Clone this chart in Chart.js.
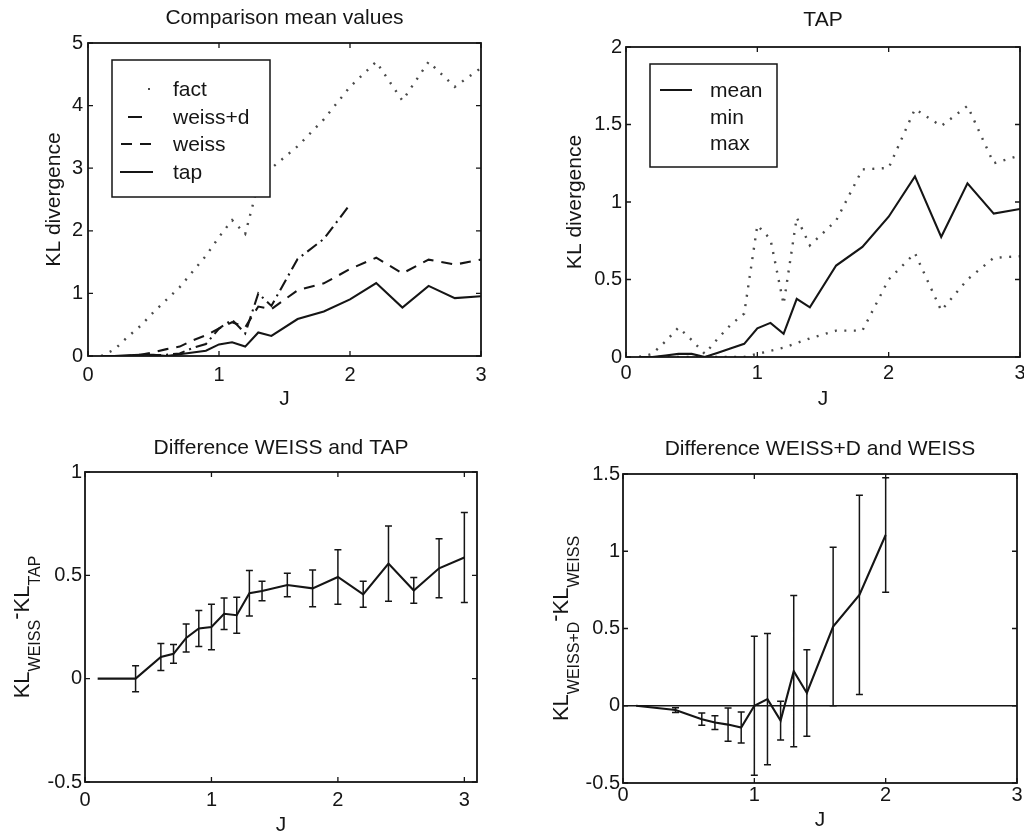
<!DOCTYPE html>
<html><head><meta charset="utf-8">
<script src="https://cdn.jsdelivr.net/npm/chart.js@4.4.0/dist/chart.umd.min.js"></script>
<style>
html,body{margin:0;padding:0;background:#fff;overflow:hidden;width:1024px;height:836px;position:relative;}
canvas{position:absolute;}
</style></head><body>
<canvas id="c1" width="512" height="418" style="left:0;top:0"></canvas>
<canvas id="c2" width="520" height="418" style="left:512px;top:0"></canvas>
<canvas id="c3" width="512" height="418" style="left:0;top:418px"></canvas>
<canvas id="c4" width="520" height="418" style="left:512px;top:418px"></canvas>
<script>
// ---------- data ----------
const J_TOP   = [0.1,0.2,0.3,0.4,0.5,0.6,0.7,0.8,0.9,1.0,1.1,1.2,1.3,1.4,1.6,1.8,2.0,2.2,2.4,2.6,2.8,3.0];
const J_WD    = [0.1,0.2,0.3,0.4,0.5,0.6,0.7,0.8,0.9,1.0,1.1,1.2,1.3,1.4,1.6,1.8,2.0];
const FACT    = [0.0,0.1,0.3,0.48,0.7,0.9,1.1,1.35,1.6,1.9,2.17,1.95,2.75,3.0,3.35,3.78,4.3,4.7,4.08,4.7,4.3,4.6];
const WEISS_D = [0,0,0,0.0,0.01,0.02,0.04,0.13,0.19,0.44,0.58,0.36,1.0,0.8,1.55,1.87,2.42];
const WEISS   = [0,0,0,0.02,0.06,0.11,0.15,0.25,0.33,0.44,0.54,0.46,0.79,0.75,1.05,1.16,1.39,1.57,1.32,1.54,1.46,1.54];
const TAP_MEAN= [0,0,0.01,0.02,0.02,0.0,0.028,0.057,0.085,0.185,0.22,0.15,0.375,0.32,0.59,0.71,0.905,1.165,0.775,1.12,0.925,0.955];
const TAP_MIN = [0,0,0,0,0,0,0,0,0,0.02,0.04,0.06,0.09,0.12,0.17,0.17,0.5,0.67,0.30,0.50,0.64,0.65];
const TAP_MAX = [0,0.02,0.10,0.19,0.11,0.02,0.12,0.21,0.28,0.85,0.76,0.34,0.90,0.72,0.88,1.21,1.22,1.60,1.49,1.62,1.25,1.30];

const J_ERR   = [0.1,0.4,0.6,0.7,0.8,0.9,1.0,1.1,1.2,1.3,1.4,1.6,1.8,2.0,2.2,2.4,2.6,2.8,3.0];
const DIFF_WT = [0,0,0.105,0.12,0.197,0.243,0.25,0.314,0.307,0.413,0.424,0.453,0.437,0.492,0.408,0.557,0.427,0.534,0.586];
const ERR_WT  = [0,0.063,0.065,0.045,0.068,0.087,0.11,0.076,0.087,0.11,0.047,0.057,0.089,0.132,0.063,0.182,0.062,0.143,0.218];

const J_DW    = [0.1,0.4,0.6,0.7,0.8,0.9,1.0,1.1,1.2,1.3,1.4,1.6,1.8,2.0];
const DIFF_DW = [0,-0.028,-0.087,-0.109,-0.122,-0.141,0.0,0.043,-0.096,0.224,0.083,0.513,0.718,1.105];
const ERR_DW  = [0,0.015,0.04,0.045,0.107,0.1,0.45,0.425,0.125,0.49,0.28,0.513,0.645,0.37];
const ZERO_X  = [0,3];
const ZERO_Y  = [0,0];

// ---------- styling ----------
const INK = '#151515';
const FONT = "'Liberation Sans', Arial, Helvetica, sans-serif";
Chart.defaults.font.family = FONT;
Chart.defaults.color = INK;
Chart.defaults.animation = false;

const DOT = [2, 7.5];
const DASH = [11, 8];
const DASHDOT = [12, 5, 2, 5];

function pts(xs, ys){ return ys.map((v,i)=>({x:xs[i], y:v})); }
function line(label, xs, ys, dash, color, width){
  return {label, data: pts(xs, ys), borderColor: color || INK, borderWidth: width || 2.1,
    borderDash: dash || [], pointRadius: 0, fill: false, tension: 0, borderCapStyle:'butt'};
}
const fmt = v => String(Number(Number(v).toFixed(2)));

// inward ticks on all four sides + box
const framePlugin = {
  id: 'frame',
  afterDraw(chart){
    const {ctx, chartArea: a, scales: {x, y}} = chart;
    const L = 5;
    ctx.save();
    ctx.strokeStyle = INK; ctx.lineWidth = 1.3; ctx.setLineDash([]);
    ctx.beginPath();
    x.ticks.forEach(t => { const p = x.getPixelForValue(t.value);
      ctx.moveTo(p, a.bottom); ctx.lineTo(p, a.bottom - L);
      ctx.moveTo(p, a.top); ctx.lineTo(p, a.top + L); });
    y.ticks.forEach(t => { const p = y.getPixelForValue(t.value);
      ctx.moveTo(a.left, p); ctx.lineTo(a.left + L, p);
      ctx.moveTo(a.right, p); ctx.lineTo(a.right - L, p); });
    ctx.stroke();
    ctx.lineWidth = 1.8;
    ctx.strokeRect(a.left, a.top, a.right - a.left, a.bottom - a.top);
    ctx.restore();
  }
};

// vertical error bars
const errPlugin = {
  id: 'errbars',
  afterDatasetsDraw(chart, args, o){
    if (!o || !o.xs) return;
    const {ctx, scales: {x, y}} = chart;
    ctx.save(); ctx.strokeStyle = INK; ctx.lineWidth = 1.5; ctx.setLineDash([]);
    ctx.beginPath();
    for (let i = 0; i < o.xs.length; i++){
      const e = o.errs[i]; if (!e) continue;
      const px = x.getPixelForValue(o.xs[i]);
      const p1 = y.getPixelForValue(o.vals[i] + e), p2 = y.getPixelForValue(o.vals[i] - e);
      ctx.moveTo(px, p1); ctx.lineTo(px, p2);
      ctx.moveTo(px - 3.5, p1); ctx.lineTo(px + 3.5, p1);
      ctx.moveTo(px - 3.5, p2); ctx.lineTo(px + 3.5, p2);
    }
    ctx.stroke(); ctx.restore();
  }
};

// MATLAB-like boxed legend inside the axes
const legendPlugin = {
  id: 'mlegend',
  afterDraw(chart, args, o){
    if (!o || !o.box) return;
    const {ctx, chartArea: a} = chart;
    const bx = a.left + o.box[0], by = a.top + o.box[1];
    ctx.save();
    ctx.fillStyle = '#fff'; ctx.fillRect(bx, by, o.box[2], o.box[3]);
    ctx.strokeStyle = INK; ctx.lineWidth = 1.5; ctx.setLineDash([]);
    ctx.strokeRect(bx, by, o.box[2], o.box[3]);
    ctx.font = '21px ' + FONT; ctx.fillStyle = INK; ctx.textBaseline = 'middle'; ctx.textAlign = 'left';
    for (let k = 0; k < o.items.length; k++){
      const it = o.items[k];
      const ds = chart.data.datasets[it.ds];
      const yy = a.top + it.y;
      ctx.strokeStyle = ds.borderColor; ctx.lineWidth = 2;
      if (it.type === 'dot'){
        ctx.setLineDash([]); ctx.beginPath();
        ctx.moveTo(a.left + it.x0, yy); ctx.lineTo(a.left + it.x0 + 2, yy); ctx.stroke();
      } else if (it.type === 'line'){
        ctx.setLineDash(it.dash ? Array.from(it.dash) : []);
        ctx.beginPath(); ctx.moveTo(a.left + it.x0, yy); ctx.lineTo(a.left + it.x1, yy); ctx.stroke();
      }
      ctx.setLineDash([]);
      ctx.fillText(ds.label, a.left + o.textX, yy + 1);
    }
    ctx.restore();
  }
};

// rotated y-axis label with subscripts
const texPlugin = {
  id: 'ytex',
  afterDraw(chart, args, o){
    if (!o || !o.parts) return;
    const {ctx, chartArea: a} = chart;
    const cy = (a.top + a.bottom) / 2;
    ctx.save();
    let total = 0;
    const ps = [];
    for (let i = 0; i < o.parts.length; i++){
      const p = o.parts[i];
      ctx.font = p.size + 'px ' + FONT;
      const w = ctx.measureText(p.t).width;
      ps.push({t: p.t, size: p.size, shift: p.shift, w}); total += w;
    }
    ctx.translate(o.baseX, cy);
    ctx.rotate(-Math.PI / 2);
    ctx.fillStyle = INK; ctx.textBaseline = 'alphabetic'; ctx.textAlign = 'left';
    let cx = -total / 2;
    ps.forEach(p => { ctx.font = p.size + 'px ' + FONT; ctx.fillText(p.t, cx, p.shift); cx += p.w; });
    ctx.restore();
  }
};

function makeOptions(c){
  return {
    responsive: false, devicePixelRatio: 1, animation: false,
    layout: {padding: {top: c.padTop, left: 0, right: c.padRight, bottom: 0}},
    plugins: {
      legend: {display: false}, tooltip: {enabled: false},
      title: {display: true, text: c.title, fullSize: false, color: INK,
        font: {size: 21, weight: 'normal', lineHeight: 1}, padding: {top: 0, bottom: c.titleGap}},
      errbars: c.err || {}, mlegend: c.legend || {}, ytex: c.tex || {}
    },
    scales: {
      x: {type: 'linear', position: 'bottom', min: c.xMin, max: c.xMax,
        grid: {display: false, drawTicks: false}, border: {display: false},
        ticks: {stepSize: 1, includeBounds: false, padding: c.xTickPad, maxRotation: 0, autoSkip: false,
          font: {size: 20, lineHeight: 1.2}, color: INK, callback: fmt},
        title: {display: true, text: 'J', color: INK, font: {size: 21, lineHeight: 1}, padding: {top: 0, bottom: c.xTitlePad}},
        afterFit: s => { s.height = c.xH; }},
      y: {type: 'linear', position: 'left', min: c.yMin, max: c.yMax,
        grid: {display: false, drawTicks: false}, border: {display: false},
        ticks: {stepSize: c.yStep, includeBounds: false, padding: c.yTickPad, font: {size: 20}, color: INK, callback: fmt},
        title: {display: !!c.yTitle, text: c.yTitle || '', color: INK, font: {size: 21, lineHeight: 1}, padding: {top: c.yTitlePad || 0, bottom: 0}},
        afterFit: s => { s.width = c.yW; }}
    }
  };
}
const PLUGINS = [framePlugin, errPlugin, legendPlugin, texPlugin];

// ---------- panel 1: Comparison mean values ----------
new Chart(document.getElementById('c1'), {
  type: 'line',
  data: {datasets: [
    line('fact', J_TOP, FACT, DOT, '#4a4a4a', 2.4),
    line('weiss+d', J_WD, WEISS_D, DASHDOT),
    line('weiss', J_TOP, WEISS, DASH),
    line('tap', J_TOP, TAP_MEAN, [])
  ]},
  options: makeOptions({title: 'Comparison mean values', padTop: 8, titleGap: 14, padRight: 31,
    xMin: 0, xMax: 3, yMin: 0, yMax: 5, yStep: 1, xH: 62, yW: 88, xTickPad: 7, yTickPad: 5,
    xTitlePad: 8.5, yTitle: 'KL divergence', yTitlePad: 44,
    legend: {box: [24, 17, 158, 137], textX: 85, items: [
      {ds: 0, y: 46, type: 'dot', x0: 60},
      {ds: 1, y: 74, type: 'line', x0: 40, x1: 54, dash: []},
      {ds: 2, y: 101, type: 'line', x0: 33, x1: 64, dash: DASH},
      {ds: 3, y: 129, type: 'line', x0: 32, x1: 65, dash: []}
    ]}}),
  plugins: PLUGINS
});

// ---------- panel 2: TAP ----------
new Chart(document.getElementById('c2'), {
  type: 'line',
  data: {datasets: [
    line('mean', J_TOP, TAP_MEAN, []),
    line('min', J_TOP, TAP_MIN, DOT, '#4a4a4a', 2.4),
    line('max', J_TOP, TAP_MAX, DOT, '#4a4a4a', 2.4)
  ]},
  options: makeOptions({title: 'TAP', padTop: 9.5, titleGap: 16.5, padRight: 12,
    xMin: 0, xMax: 3, yMin: 0, yMax: 2, yStep: 0.5, xH: 61, yW: 114, xTickPad: 4, yTickPad: 4,
    xTitlePad: 8.5, yTitle: 'KL divergence', yTitlePad: 53,
    legend: {box: [24, 17, 127, 103], textX: 84, items: [
      {ds: 0, y: 43, type: 'line', x0: 34, x1: 66, dash: []},
      {ds: 1, y: 70, type: 'none'},
      {ds: 2, y: 96, type: 'none'}
    ]}}),
  plugins: PLUGINS
});

// ---------- panel 3: Difference WEISS and TAP ----------
new Chart(document.getElementById('c3'), {
  type: 'line',
  data: {datasets: [ line('KL_WEISS-KL_TAP', J_ERR, DIFF_WT, []) ]},
  options: makeOptions({title: 'Difference WEISS and TAP', padTop: 20, titleGap: 13, padRight: 35,
    xMin: 0, xMax: 3.1, yMin: -0.5, yMax: 1, yStep: 0.5, xH: 54, yW: 85, xTickPad: 6, yTickPad: 3,
    xTitlePad: 0.5,
    err: {xs: J_ERR, vals: DIFF_WT, errs: ERR_WT},
    tex: {baseX: 29, parts: [
      {t: 'KL', size: 22, shift: 0}, {t: 'WEISS', size: 16, shift: 11},
      {t: '-', size: 22, shift: -6}, {t: 'KL', size: 22, shift: 0}, {t: 'TAP', size: 16, shift: 11}
    ]}}),
  plugins: PLUGINS
});

// ---------- panel 4: Difference WEISS+D and WEISS ----------
new Chart(document.getElementById('c4'), {
  type: 'line',
  data: {datasets: [
    line('KL_WEISS+D-KL_WEISS', J_DW, DIFF_DW, []),
    line('zero', ZERO_X, ZERO_Y, [], INK, 1.5)
  ]},
  options: makeOptions({title: 'Difference WEISS+D and WEISS', padTop: 20.5, titleGap: 14.5, padRight: 15,
    xMin: 0, xMax: 3, yMin: -0.5, yMax: 1.5, yStep: 0.5, xH: 53, yW: 111, xTickPad: 0, yTickPad: 3,
    xTitlePad: 5.5,
    err: {xs: J_DW, vals: DIFF_DW, errs: ERR_DW},
    tex: {baseX: 56, parts: [
      {t: 'KL', size: 22, shift: 0}, {t: 'WEISS+D', size: 16, shift: 11},
      {t: '-', size: 22, shift: -6}, {t: 'KL', size: 22, shift: 0}, {t: 'WEISS', size: 16, shift: 11}
    ]}}),
  plugins: PLUGINS
});
</script>
</body></html>
